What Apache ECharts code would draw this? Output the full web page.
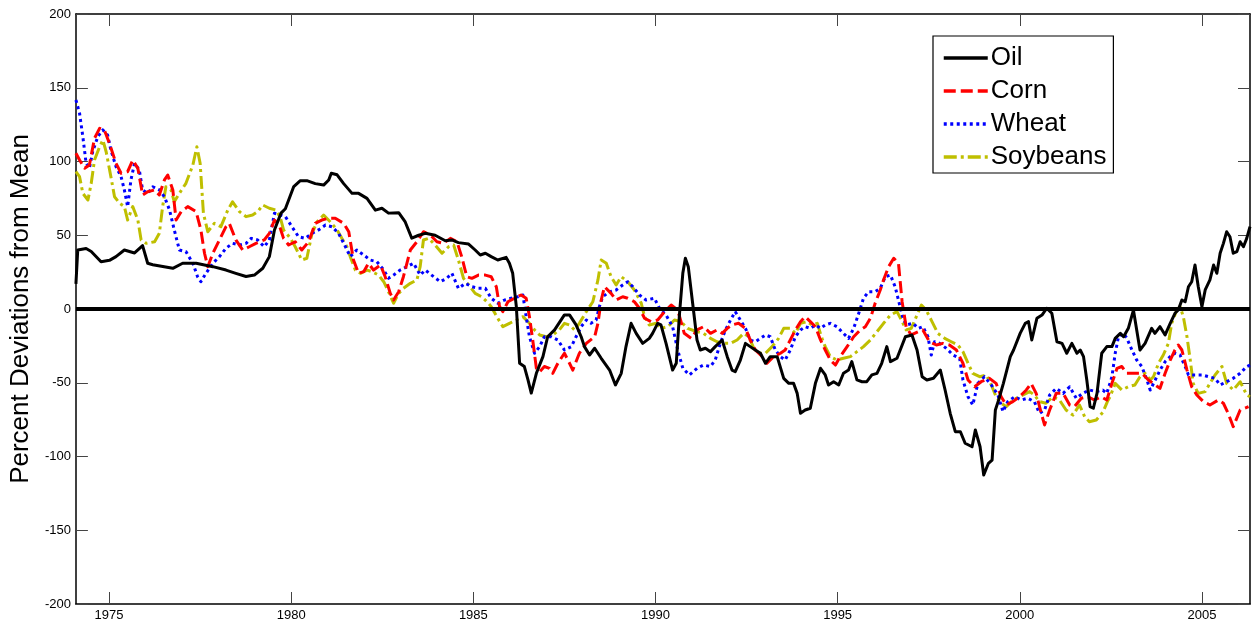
<!DOCTYPE html>
<html>
<head>
<meta charset="utf-8">
<script src="https://cdn.jsdelivr.net/npm/echarts@6/dist/echarts.min.js"></script>
<style>
html,body{margin:0;padding:0;background:#fff;}
#chart{width:1254px;height:625px;}
</style>
</head>
<body>
<div id="chart"></div>
<script>
// ---- data: [year, percent deviation from mean] ----
const yearTicks = [1975, 1980, 1985, 1990, 1995, 2000, 2005];
const valueTicks = [-200, -150, -100, -50, 0, 50, 100, 150, 200];
const seriesNames = ['Oil', 'Corn', 'Wheat', 'Soybeans'];

const oil = [[1974.09,17],[1974.14,40],[1974.37,41],[1974.51,39],[1974.78,32],[1975.01,33],[1975.19,35.5],[1975.42,40],[1975.70,38],[1975.92,43],[1976.06,31],[1976.20,30],[1976.75,27.6],[1977.02,31],[1977.39,31],[1977.85,28.7],[1978.21,26.4],[1978.48,24.2],[1978.76,22],[1978.99,23],[1979.22,27.6],[1979.40,35.5],[1979.54,53.6],[1979.72,65],[1979.84,68],[1980.07,83],[1980.25,87],[1980.43,87],[1980.66,85],[1980.89,84],[1981.03,87.5],[1981.10,92],[1981.26,91],[1981.44,85],[1981.67,78.4],[1981.85,78.4],[1982.08,75],[1982.31,67],[1982.49,68.3],[1982.67,65],[1982.95,65.3],[1983.13,59],[1983.31,48],[1983.50,50],[1983.68,51.3],[1983.95,50],[1984.23,46.3],[1984.41,46.8],[1984.59,45],[1984.87,44],[1985.05,40],[1985.19,36.6],[1985.33,37.8],[1985.49,35.5],[1985.67,33.2],[1985.90,35],[1985.99,31],[1986.08,24.2],[1986.18,1.6],[1986.27,-36.8],[1986.40,-39],[1986.50,-48],[1986.59,-57],[1986.73,-43.6],[1986.91,-32.3],[1987.04,-18.8],[1987.23,-14.2],[1987.50,-4],[1987.64,-4],[1987.82,-10.8],[1987.96,-18.8],[1988.05,-25.5],[1988.19,-31.2],[1988.33,-26.6],[1988.51,-33.4],[1988.74,-41.4],[1988.90,-51.5],[1989.06,-43.6],[1989.19,-25.5],[1989.33,-9.7],[1989.47,-16.5],[1989.65,-23.3],[1989.83,-19.9],[1989.92,-16.5],[1990.06,-9.7],[1990.15,-10.8],[1990.29,-23.3],[1990.47,-41.4],[1990.57,-36.8],[1990.66,-2.9],[1990.75,24.2],[1990.82,34.4],[1990.90,28.7],[1991.02,3.9],[1991.14,-21],[1991.23,-27.8],[1991.37,-26.6],[1991.51,-28.9],[1991.64,-25.5],[1991.83,-21],[1991.97,-32.3],[1992.10,-41.4],[1992.19,-42.5],[1992.33,-34.6],[1992.47,-23.3],[1992.60,-25.5],[1992.74,-27.8],[1992.88,-30],[1993.02,-36.8],[1993.15,-32.3],[1993.34,-32.3],[1993.52,-47],[1993.66,-50.4],[1993.79,-50.4],[1993.89,-57.2],[1993.98,-70.7],[1994.11,-68.5],[1994.25,-67.3],[1994.39,-50.4],[1994.53,-40.2],[1994.66,-44.7],[1994.75,-51.5],[1994.89,-49.3],[1995.03,-51.5],[1995.16,-43.6],[1995.30,-41.4],[1995.39,-35.7],[1995.53,-48.1],[1995.67,-49.3],[1995.80,-49.3],[1995.94,-44.7],[1996.08,-43.6],[1996.21,-36.8],[1996.35,-25.5],[1996.45,-35.7],[1996.63,-33.4],[1996.86,-18.8],[1997.04,-17.6],[1997.18,-27.8],[1997.32,-45.9],[1997.45,-48.1],[1997.63,-47],[1997.82,-41.4],[1997.95,-54.9],[1998.09,-70.7],[1998.23,-83.2],[1998.37,-83.2],[1998.50,-91],[1998.69,-93.4],[1998.78,-82],[1998.91,-93.4],[1999.01,-112.5],[1999.14,-104.6],[1999.24,-102.4],[1999.33,-68.5],[1999.42,-61.7],[1999.55,-50.4],[1999.74,-32.3],[1999.83,-27.8],[2000.01,-16.5],[2000.15,-9.7],[2000.24,-8.6],[2000.33,-21],[2000.47,-6.3],[2000.61,-4.1],[2000.74,0.5],[2000.88,-2.9],[2001.02,-22.2],[2001.16,-23.3],[2001.29,-30],[2001.43,-23.3],[2001.57,-30],[2001.66,-27.8],[2001.75,-32.3],[2001.84,-48.1],[2001.93,-66.2],[2002.02,-67.3],[2002.12,-57.2],[2002.25,-30],[2002.39,-25.5],[2002.53,-25.5],[2002.62,-19.9],[2002.76,-16.5],[2002.85,-18.8],[2002.98,-13.1],[2003.12,-0.7],[2003.30,-27.8],[2003.44,-23.3],[2003.62,-13.1],[2003.71,-16.5],[2003.85,-12],[2003.99,-17.6],[2004.13,-9.7],[2004.26,-2.9],[2004.35,-0.7],[2004.45,6.1],[2004.54,4.9],[2004.63,15.1],[2004.72,18.5],[2004.81,29.8],[2004.90,15.1],[2005.00,1.6],[2005.09,12.9],[2005.22,19.7],[2005.32,29.8],[2005.41,24.2],[2005.50,37.8],[2005.59,44.5],[2005.68,52.4],[2005.77,49],[2005.86,37.8],[2005.96,38.9],[2006.05,45.6],[2006.14,42.2],[2006.23,47.9],[2006.32,55.8]];

const corn = [[1974.09,105.6],[1974.19,101],[1974.33,95.4],[1974.46,97.6],[1974.60,115.7],[1974.74,122.5],[1974.87,121.4],[1975.01,112.3],[1975.19,98.8],[1975.33,92],[1975.51,93.1],[1975.65,101],[1975.79,95.4],[1975.92,77.3],[1976.06,79.5],[1976.25,80.7],[1976.38,77.3],[1976.52,87.5],[1976.61,90.8],[1976.75,80.7],[1976.84,60.3],[1976.98,66],[1977.16,69.4],[1977.39,66],[1977.52,53.6],[1977.62,37.8],[1977.71,28.7],[1977.85,37.8],[1978.03,46.8],[1978.21,55.8],[1978.30,58.1],[1978.48,46.8],[1978.67,40],[1978.85,42.2],[1979.03,44.5],[1979.26,46.8],[1979.40,51.3],[1979.54,60.3],[1979.67,57],[1979.79,47.9],[1979.93,43.4],[1980.11,45.6],[1980.29,40],[1980.48,45.6],[1980.66,58.1],[1980.84,60.3],[1981.03,61.5],[1981.21,61.5],[1981.44,58.1],[1981.58,52.4],[1981.71,33.2],[1981.85,24.2],[1981.99,25.3],[1982.12,31],[1982.26,26.4],[1982.45,29.8],[1982.58,21.9],[1982.72,10.6],[1982.81,6.1],[1982.95,11.7],[1983.08,21.9],[1983.27,40],[1983.45,45.6],[1983.63,52.4],[1983.82,50.2],[1984.00,45.6],[1984.18,44.5],[1984.37,47.9],[1984.55,45.6],[1984.68,35.5],[1984.82,21.9],[1984.96,20.8],[1985.14,23],[1985.33,23],[1985.49,21.9],[1985.63,15.1],[1985.72,1.6],[1985.81,-1.8],[1985.95,4.9],[1986.13,7.3],[1986.31,9.5],[1986.45,7.3],[1986.54,-5.2],[1986.63,-21],[1986.73,-40.2],[1986.82,-42.5],[1986.95,-39],[1987.09,-40.2],[1987.18,-43.6],[1987.32,-36.8],[1987.50,-30],[1987.64,-36.8],[1987.73,-41.4],[1987.91,-30],[1988.10,-23.3],[1988.33,-18.8],[1988.42,-9.7],[1988.51,6.1],[1988.60,15.1],[1988.78,10.6],[1988.92,6.1],[1989.10,8.3],[1989.24,7.3],[1989.42,4.9],[1989.56,0.5],[1989.70,-6.3],[1989.88,-8.6],[1990.06,-7.5],[1990.25,-1.8],[1990.43,2.7],[1990.61,-0.7],[1990.79,-16.5],[1990.98,-19.9],[1991.14,-14.2],[1991.32,-12],[1991.51,-16.5],[1991.69,-14.2],[1991.83,-16.5],[1991.97,-13.1],[1992.10,-10.8],[1992.28,-9.7],[1992.47,-13.1],[1992.60,-21],[1992.74,-27.8],[1992.93,-32.3],[1993.06,-36.8],[1993.24,-32.3],[1993.43,-30],[1993.56,-27.8],[1993.70,-21],[1993.84,-14.2],[1993.98,-8.6],[1994.11,-5.2],[1994.25,-8.6],[1994.39,-12],[1994.53,-21],[1994.66,-27.8],[1994.80,-34.6],[1994.94,-38],[1995.07,-32.3],[1995.26,-25.5],[1995.44,-18.8],[1995.62,-14.2],[1995.76,-12],[1995.90,-6.3],[1996.03,3.9],[1996.17,12.9],[1996.26,19.7],[1996.40,28.7],[1996.54,34.4],[1996.67,31],[1996.77,5],[1996.88,-12],[1997.02,-17.6],[1997.21,-15.4],[1997.34,-14.2],[1997.52,-22.2],[1997.71,-24.4],[1997.89,-23.3],[1998.07,-24.4],[1998.26,-27.8],[1998.44,-36.8],[1998.58,-48.1],[1998.76,-52.7],[1998.94,-49.3],[1999.17,-47],[1999.35,-50.4],[1999.49,-59.5],[1999.63,-65.1],[1999.81,-62.8],[1999.99,-59.5],[2000.18,-54.9],[2000.31,-50.4],[2000.45,-57.2],[2000.59,-70.7],[2000.68,-78.6],[2000.82,-68.5],[2001.00,-57.2],[2001.19,-57.2],[2001.37,-65.1],[2001.50,-66.2],[2001.69,-60.5],[2001.87,-59.5],[2002.05,-61.7],[2002.23,-59.5],[2002.39,-61.7],[2002.53,-50.4],[2002.67,-40.2],[2002.80,-39],[2002.94,-43.6],[2003.12,-43.6],[2003.35,-43.6],[2003.53,-48.1],[2003.72,-51.5],[2003.85,-53.8],[2003.99,-43.6],[2004.13,-34.6],[2004.26,-27.8],[2004.35,-24.4],[2004.45,-27.8],[2004.59,-41.4],[2004.72,-52.7],[2004.86,-58.3],[2005.04,-62.8],[2005.22,-65.1],[2005.45,-61.7],[2005.59,-63.9],[2005.72,-70.7],[2005.86,-79.8],[2006.05,-68.5],[2006.28,-66.2]];

const wheat = [[1974.09,141.7],[1974.19,132.7],[1974.28,116.8],[1974.37,98.8],[1974.46,95.4],[1974.55,106.6],[1974.69,116.8],[1974.83,121.4],[1974.96,118],[1975.05,107.8],[1975.19,96.5],[1975.33,89.7],[1975.42,80.7],[1975.51,69.4],[1975.60,87.5],[1975.70,98.8],[1975.83,94.2],[1975.92,80.7],[1976.06,78.4],[1976.20,82.9],[1976.38,80.7],[1976.52,76.1],[1976.66,67.1],[1976.79,53.6],[1976.93,40],[1977.11,38.9],[1977.30,31],[1977.43,21.9],[1977.52,18.5],[1977.66,24.2],[1977.85,31],[1978.03,35.5],[1978.21,41.2],[1978.39,44.5],[1978.58,43.4],[1978.76,44.5],[1978.90,47.9],[1979.08,46.8],[1979.26,42.2],[1979.40,46.8],[1979.54,64.9],[1979.67,64],[1979.84,62.6],[1980.02,55.8],[1980.20,49],[1980.39,47.9],[1980.57,51.3],[1980.75,53.6],[1980.94,56.9],[1981.12,55.8],[1981.30,51.3],[1981.49,42.2],[1981.62,35.5],[1981.80,40],[1981.99,36.6],[1982.17,33.2],[1982.35,32.1],[1982.54,26.4],[1982.67,20.8],[1982.81,23],[1982.99,26.4],[1983.18,28.7],[1983.36,31],[1983.54,23],[1983.68,26.4],[1983.91,21.9],[1984.09,18.5],[1984.27,20.8],[1984.41,24.2],[1984.59,14],[1984.78,17.4],[1984.96,15.1],[1985.14,14],[1985.33,14],[1985.49,7.3],[1985.67,3.9],[1985.86,6.1],[1986.04,7.3],[1986.22,8.3],[1986.36,9.5],[1986.45,-5.2],[1986.54,-18.8],[1986.68,-30],[1986.82,-25.5],[1986.95,-18.8],[1987.14,-18.8],[1987.32,-21],[1987.50,-27.8],[1987.69,-25.5],[1987.82,-18.8],[1987.96,-12],[1988.10,-7.5],[1988.23,-9.7],[1988.37,-7.5],[1988.46,1.6],[1988.55,8.3],[1988.74,11.7],[1988.92,12.9],[1989.10,16.3],[1989.24,18.5],[1989.38,15.1],[1989.56,9.5],[1989.74,6.1],[1989.97,7.3],[1990.11,0.5],[1990.29,-4.1],[1990.47,-12],[1990.61,-27.8],[1990.75,-40.2],[1990.93,-44.7],[1991.14,-40.2],[1991.32,-38],[1991.51,-39],[1991.64,-34.6],[1991.78,-23.3],[1991.92,-14.2],[1992.06,-7.5],[1992.19,-1.8],[1992.33,-7.5],[1992.47,-13.1],[1992.60,-21],[1992.74,-22.2],[1992.88,-19.9],[1993.02,-17.6],[1993.15,-18.8],[1993.29,-27.8],[1993.43,-32.3],[1993.56,-34.6],[1993.70,-27.8],[1993.84,-18.8],[1993.98,-14.2],[1994.11,-12],[1994.25,-13.1],[1994.39,-10.8],[1994.53,-13.1],[1994.66,-10.8],[1994.80,-9.7],[1994.98,-12],[1995.16,-16.5],[1995.30,-19.9],[1995.44,-13.1],[1995.58,-2.9],[1995.71,7.3],[1995.85,11.7],[1996.03,11.7],[1996.17,14],[1996.31,21.9],[1996.45,23],[1996.58,15],[1996.68,5],[1996.78,-5],[1996.88,-10.8],[1997.07,-9.7],[1997.21,-13.1],[1997.34,-12],[1997.48,-18.8],[1997.57,-31.2],[1997.66,-22.2],[1997.80,-23.3],[1997.98,-26.6],[1998.17,-31.2],[1998.35,-33.4],[1998.44,-48.1],[1998.58,-59.5],[1998.71,-65.1],[1998.85,-50.4],[1999.03,-45.9],[1999.22,-51.5],[1999.40,-58.3],[1999.54,-69.6],[1999.67,-62.8],[1999.86,-59.5],[2000.04,-61.7],[2000.22,-60.5],[2000.40,-62.8],[2000.54,-70.7],[2000.68,-68.5],[2000.82,-58.3],[2001.00,-53.8],[2001.19,-57.2],[2001.37,-52.7],[2001.55,-60.5],[2001.73,-57.2],[2001.91,-54.9],[2002.10,-56],[2002.28,-55],[2002.39,-57.2],[2002.53,-45.9],[2002.62,-30],[2002.71,-18.8],[2002.85,-16.5],[2002.94,-19.9],[2003.08,-27.8],[2003.21,-34.6],[2003.35,-39],[2003.49,-48.1],[2003.58,-54.9],[2003.72,-48.1],[2003.85,-41.4],[2003.99,-35.7],[2004.13,-32.3],[2004.26,-30],[2004.40,-31.2],[2004.54,-39],[2004.63,-44.7],[2004.81,-44.7],[2005.00,-44.7],[2005.18,-45.9],[2005.36,-47],[2005.50,-51.5],[2005.68,-49.3],[2005.86,-47],[2006.05,-43.6],[2006.23,-39],[2006.32,-38]];

const soybeans = [[1974.09,93.1],[1974.19,89.7],[1974.28,78.4],[1974.42,73.9],[1974.51,85.2],[1974.60,101],[1974.74,110],[1974.83,114.6],[1974.92,106.6],[1975.05,89.7],[1975.15,76.1],[1975.29,71.7],[1975.42,69.4],[1975.51,60.3],[1975.65,69.4],[1975.79,60.3],[1975.88,46.8],[1976.02,44.5],[1976.25,45.6],[1976.38,51.3],[1976.47,69.4],[1976.56,82.9],[1976.70,80.7],[1976.79,72.7],[1976.93,78.4],[1977.11,85.2],[1977.30,97.6],[1977.41,110],[1977.50,98.8],[1977.59,64.9],[1977.71,52.4],[1977.89,58.1],[1978.07,55.8],[1978.26,67.1],[1978.39,72.7],[1978.58,66],[1978.76,62.6],[1978.94,63.7],[1979.08,66],[1979.22,70.5],[1979.40,68.3],[1979.58,67.1],[1979.70,62],[1979.79,53.6],[1979.98,47.9],[1980.11,42.2],[1980.29,33.2],[1980.43,34.4],[1980.57,51.3],[1980.71,59.2],[1980.89,63.7],[1981.07,59.2],[1981.26,53.6],[1981.39,47.9],[1981.53,42.2],[1981.62,35.5],[1981.76,26.4],[1981.90,24.2],[1982.08,26.4],[1982.22,25.3],[1982.40,23],[1982.54,18.5],[1982.67,11.7],[1982.81,3.9],[1982.95,10.6],[1983.08,14],[1983.27,17.4],[1983.45,19.7],[1983.54,28.7],[1983.63,46.8],[1983.77,47.9],[1983.95,43.4],[1984.14,37.8],[1984.32,42.2],[1984.46,43.4],[1984.59,33.2],[1984.73,20.8],[1984.87,16.3],[1985.05,10.6],[1985.23,8.3],[1985.41,4],[1985.49,1.6],[1985.67,-6.3],[1985.81,-12],[1985.99,-9.7],[1986.18,-7.5],[1986.36,-5.2],[1986.54,-9.7],[1986.68,-14.2],[1986.82,-17.6],[1987.00,-18.8],[1987.18,-17.6],[1987.36,-14.2],[1987.50,-9.7],[1987.64,-10.8],[1987.78,-14.2],[1987.91,-9.7],[1988.10,-1.8],[1988.28,4.9],[1988.42,19.7],[1988.51,33.2],[1988.65,31],[1988.78,21.9],[1988.92,16.3],[1989.06,21.9],[1989.24,18.5],[1989.42,12.9],[1989.61,3.9],[1989.70,-5.2],[1989.83,-10.8],[1990.02,-9.7],[1990.15,-13.1],[1990.34,-12],[1990.52,-7.5],[1990.70,-8.6],[1990.88,-13.1],[1991.14,-15.4],[1991.32,-16.5],[1991.51,-19.9],[1991.69,-22.2],[1991.87,-23.3],[1992.06,-23.3],[1992.24,-21],[1992.42,-16.5],[1992.56,-18.8],[1992.70,-26.6],[1992.83,-30],[1993.02,-30],[1993.20,-25.5],[1993.38,-19.9],[1993.52,-13.1],[1993.70,-13.1],[1993.84,-16.5],[1993.98,-9.7],[1994.16,-8.6],[1994.30,-10.8],[1994.44,-9.7],[1994.57,-19.9],[1994.66,-25.5],[1994.80,-32.3],[1994.98,-34.6],[1995.16,-33.4],[1995.35,-32.3],[1995.53,-28.9],[1995.71,-25.5],[1995.90,-21],[1996.08,-15.4],[1996.26,-9.7],[1996.45,-4.1],[1996.63,-1.8],[1996.75,-7.5],[1996.88,-14.2],[1997.02,-13.1],[1997.16,-5.2],[1997.30,2.7],[1997.43,-0.7],[1997.57,-7.5],[1997.75,-16.5],[1997.94,-19.9],[1998.12,-22.2],[1998.30,-24.4],[1998.44,-28.9],[1998.58,-36.8],[1998.71,-43.6],[1998.90,-45.9],[1999.08,-44.7],[1999.22,-51.5],[1999.35,-59.5],[1999.49,-63.9],[1999.63,-66.2],[1999.77,-62.8],[1999.90,-60.5],[2000.09,-58.3],[2000.27,-56],[2000.40,-58.3],[2000.54,-62.8],[2000.72,-63.9],[2000.91,-59.5],[2001.09,-61.7],[2001.27,-68.5],[2001.46,-71.9],[2001.64,-65.1],[2001.78,-73],[2001.91,-76.4],[2002.10,-75.3],[2002.28,-70],[2002.42,-62],[2002.48,-59.5],[2002.62,-50.4],[2002.80,-54.9],[2002.98,-52.7],[2003.16,-51.5],[2003.30,-45.9],[2003.44,-43.6],[2003.58,-48.1],[2003.67,-45.9],[2003.81,-36.8],[2003.94,-31.2],[2004.08,-23.3],[2004.17,-9.7],[2004.31,-0.7],[2004.40,1.6],[2004.49,-5.2],[2004.59,-18.8],[2004.68,-34.6],[2004.76,-50.4],[2004.90,-57.2],[2005.09,-56],[2005.22,-50.4],[2005.36,-44.7],[2005.55,-39],[2005.68,-50.4],[2005.86,-54.9],[2006.05,-49.3],[2006.23,-58.3],[2006.32,-59.5]];

const xMin = 1974.09, xMax = 2006.32;

const FONT = 'Liberation Sans, Arial, Helvetica, sans-serif';
const chart = echarts.init(document.getElementById('chart'), null, {renderer: 'canvas'});

function lineSeries(name, data, color, type, z) {
  return {
    name: name, type: 'line', data: data, xAxisIndex: 0, yAxisIndex: 0,
    symbol: 'none', showSymbol: false, smooth: false, z: z,
    lineStyle: {color: color, width: 3, type: type, cap: 'butt', join: 'round'},
    itemStyle: {color: color},
    emphasis: {disabled: true}
  };
}

const tickStyle = {show: true, inside: true, length: 12, lineStyle: {color: '#444', width: 1}};
const axisLineStyle = {show: true, onZero: false, lineStyle: {color: '#000', width: 1.5}};

const option = {
  animation: false,
  backgroundColor: '#fff',
  grid: {left: 75, right: 4, top: 14, bottom: 21, containLabel: false},
  legend: {
    data: seriesNames,
    orient: 'vertical',
    left: 933, top: 36,
    backgroundColor: '#fff',
    borderColor: '#000', borderWidth: 1.2, borderRadius: 0,
    padding: [9, 7, 3, 9],
    itemWidth: 44, itemHeight: 14, itemGap: 7,
    itemStyle: {opacity: 0},
    lineStyle: {width: 3.5},
    textStyle: {fontSize: 26, color: '#000', fontFamily: FONT, padding: [0, 0, 0, -2]},
    selectedMode: false
  },
  xAxis: [{
    type: 'value', min: xMin, max: xMax, position: 'bottom',
    axisLine: axisLineStyle,
    axisTick: Object.assign({customValues: yearTicks}, tickStyle),
    axisLabel: {customValues: yearTicks, formatter: v => String(Math.round(v)), fontSize: 13, color: '#000', fontFamily: FONT, margin: 5},
    splitLine: {show: false}
  }, {
    type: 'value', min: xMin, max: xMax, position: 'top',
    axisLine: axisLineStyle,
    axisTick: Object.assign({customValues: yearTicks}, tickStyle),
    axisLabel: {show: false},
    splitLine: {show: false}
  }],
  yAxis: [{
    type: 'value', min: -200, max: 200, interval: 50, position: 'left',
    name: 'Percent Deviations from Mean', nameLocation: 'middle', nameGap: 40,
    nameTextStyle: {fontSize: 26, color: '#000', fontFamily: FONT},
    axisLine: axisLineStyle,
    axisTick: tickStyle,
    axisLabel: {fontSize: 13, color: '#000', fontFamily: FONT, margin: 5},
    splitLine: {show: false}
  }, {
    type: 'value', min: -200, max: 200, interval: 50, position: 'right',
    axisLine: axisLineStyle,
    axisTick: tickStyle,
    axisLabel: {show: false},
    splitLine: {show: false}
  }],
  series: [
    lineSeries('Oil', oil, '#000000', 'solid', 5),
    lineSeries('Corn', corn, '#FF0000', [12, 5], 4),
    lineSeries('Wheat', wheat, '#0000FF', [3, 3.5], 3),
    lineSeries('Soybeans', soybeans, '#BFBF00', [13, 4, 3, 4], 2),
    {
      name: 'zero', type: 'line', data: [], xAxisIndex: 0, yAxisIndex: 0, z: 10,
      silent: true,
      markLine: {
        silent: true, symbol: 'none', animation: false,
        label: {show: false},
        lineStyle: {color: '#000', width: 4, type: 'solid'},
        data: [{yAxis: 0}]
      }
    }
  ]
};
chart.setOption(option);
</script>
</body>
</html>
